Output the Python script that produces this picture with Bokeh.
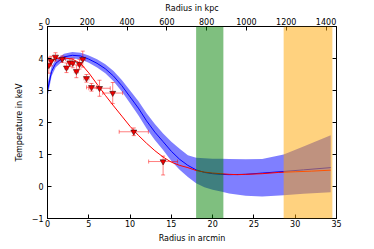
from bokeh.plotting import figure
from bokeh.models import LinearAxis, Range1d, BoxAnnotation, Whisker, TeeHead, ColumnDataSource, FixedTicker
from bokeh.embed import file_html
from bokeh.resources import INLINE

# Data points (radius in arcmin, temperature in keV)
pt_r = [0.16, 0.45, 0.97, 1.78, 2.3, 2.7, 3.06, 3.5, 3.87, 4.27, 4.72, 5.33, 6.3, 7.9, 10.45, 14.0]
pt_t = [3.79, 3.92, 4.05, 3.98, 3.71, 3.87, 3.86, 3.6, 3.82, 3.98, 3.38, 3.10, 3.07, 2.92, 1.71, 0.78]
pt_rerr = [0.15, 0.15, 0.25, 0.4, 0.2, 0.2, 0.2, 0.25, 0.25, 0.3, 0.3, 0.6, 1.3, 1.2, 1.77, 1.75]
pt_terr_up = [0.25, 0.15, 0.13, 0.1, 0.15, 0.12, 0.15, 0.2, 0.15, 0.25, 0.12, 0.12, 0.25, 0.33, 0.12, 0.17]
pt_terr_lo = [0.25, 0.15, 0.13, 0.1, 0.15, 0.12, 0.15, 0.2, 0.15, 0.25, 0.12, 0.12, 0.25, 0.33, 0.12, 0.42]

# Red model curve
red_r = [0.2, 1, 2, 3, 4, 5, 6, 7, 8, 9, 10, 11, 12, 13, 14, 15, 16, 17, 18, 19, 20, 21, 22, 23, 24, 26, 28, 30, 32, 34.3]
red_t = [3.8, 4.0, 4.02, 3.98, 3.85, 3.55, 3.2, 2.85, 2.52, 2.2, 1.88, 1.6, 1.35, 1.12, 0.92, 0.76, 0.66, 0.59, 0.5, 0.45, 0.42, 0.40, 0.38, 0.37, 0.38, 0.40, 0.44, 0.46, 0.48, 0.51]

# Blue model curve with band
blue_r = [0, 0.5, 1, 2, 3, 4, 5, 6, 7, 8, 9, 10, 11, 12, 13, 14, 15, 16, 17, 18, 19, 20, 21, 22, 24, 26, 28.6, 31, 34.3]
blue_t = [3.0, 3.6, 3.85, 4.05, 4.1, 4.08, 3.98, 3.85, 3.68, 3.45, 3.15, 2.8, 2.45, 2.05, 1.7, 1.4, 1.1, 0.85, 0.66, 0.52, 0.44, 0.4, 0.38, 0.37, 0.38, 0.42, 0.47, 0.52, 0.59]
blue_up = [3.2, 3.75, 3.97, 4.15, 4.2, 4.18, 4.09, 3.98, 3.82, 3.61, 3.33, 3.0, 2.67, 2.29, 1.95, 1.66, 1.4, 1.18, 0.98, 0.9, 0.88, 0.87, 0.87, 0.86, 0.85, 0.86, 1.0, 1.25, 1.6]
blue_lo = [2.8, 3.45, 3.73, 3.95, 4.0, 3.98, 3.87, 3.72, 3.54, 3.29, 2.97, 2.6, 2.23, 1.81, 1.45, 1.14, 0.8, 0.52, 0.3, 0.1, -0.02, -0.1, -0.16, -0.22, -0.29, -0.31, -0.27, -0.23, -0.18]

# Shaded radial ranges (arcmin)
green_span = [18.0, 21.3]
orange_span = [28.6, 34.5]

x_ticks = [0, 5, 10, 15, 20, 25, 30, 35]
y_ticks = [-1, 0, 1, 2, 3, 4, 5]
kpc_ticks = [0, 200, 400, 600, 800, 1000, 1200, 1400]
kpc_per_arcmin = 41.5
x_max = 35

FONT = "DejaVu Sans"
FS = "8px"

p = figure(width=374, height=249, x_range=(0, x_max), y_range=(-1, 5),
           output_backend="svg", toolbar_location=None,
           min_border_left=47, min_border_right=38, min_border_top=24, min_border_bottom=31,
           x_axis_location=None, y_axis_location=None)
p.grid.visible = False
p.outline_line_color = "black"
p.outline_line_width = 1
p.background_fill_color = "white"
p.border_fill_color = "white"
p.extra_x_ranges = {"kpc": Range1d(0, x_max * kpc_per_arcmin)}


def style(ax):
    ax.major_tick_in = 4
    ax.major_tick_out = 0
    ax.minor_tick_line_color = None
    ax.axis_line_color = "black"
    ax.major_tick_line_color = "black"
    ax.major_label_text_font = FONT
    ax.major_label_text_font_size = FS
    ax.major_label_text_color = "black"
    ax.axis_label_text_font = FONT
    ax.axis_label_text_font_size = FS
    ax.axis_label_text_font_style = "normal"
    ax.axis_label_text_color = "black"
    ax.major_label_standoff = 2
    ax.axis_label_standoff = 4


bottom = LinearAxis(ticker=FixedTicker(ticks=x_ticks), axis_label="Radius in arcmin")
style(bottom)
bottom.major_label_standoff = 1
p.add_layout(bottom, "below")

left = LinearAxis(ticker=FixedTicker(ticks=y_ticks), axis_label="Temperature in keV")
style(left)
left.major_label_standoff = 4
left.axis_label_standoff = 5
left.major_label_overrides = {-1: "\u22121"}
p.add_layout(left, "left")

right = LinearAxis(ticker=FixedTicker(ticks=y_ticks))
style(right)
right.major_label_text_color = None
p.add_layout(right, "right")

top = LinearAxis(x_range_name="kpc", ticker=FixedTicker(ticks=kpc_ticks), axis_label="Radius in kpc")
style(top)
top.axis_label_standoff = 2
top.major_label_standoff = 2
p.add_layout(top, "above")

# band
p.varea(x=blue_r, y1=blue_lo, y2=blue_up, fill_color="blue", fill_alpha=0.5)
p.line(blue_r, blue_t, line_color="blue", line_width=1)
p.line(red_r, red_t, line_color="red", line_width=1)

p.add_layout(BoxAnnotation(left=green_span[0], right=green_span[1], fill_color="green", fill_alpha=0.5, line_color=None))
p.add_layout(BoxAnnotation(left=orange_span[0], right=orange_span[1], fill_color="orange", fill_alpha=0.5, line_color=None))

src = ColumnDataSource(dict(
    r=pt_r, t=pt_t,
    rlo=[a - b for a, b in zip(pt_r, pt_rerr)], rhi=[a + b for a, b in zip(pt_r, pt_rerr)],
    tlo=[a - b for a, b in zip(pt_t, pt_terr_lo)], thi=[a + b for a, b in zip(pt_t, pt_terr_up)],
))
head = dict(size=4, line_color="red", line_alpha=0.5, line_width=1)
wy = Whisker(source=src, base="r", lower="tlo", upper="thi", dimension="height",
             line_color="red", line_alpha=0.5, line_width=1,
             lower_head=TeeHead(**head), upper_head=TeeHead(**head), level="glyph")
wx = Whisker(source=src, base="t", lower="rlo", upper="rhi", dimension="width",
             line_color="red", line_alpha=0.5, line_width=1,
             lower_head=TeeHead(**head), upper_head=TeeHead(**head), level="glyph")
p.add_layout(wy)
p.add_layout(wx)
p.scatter("r", "t", source=src, marker="inverted_triangle", size=6,
          fill_color="#dd0000", line_color="black", line_width=0.5)

open("out.html", "w").write(file_html(p, INLINE))
